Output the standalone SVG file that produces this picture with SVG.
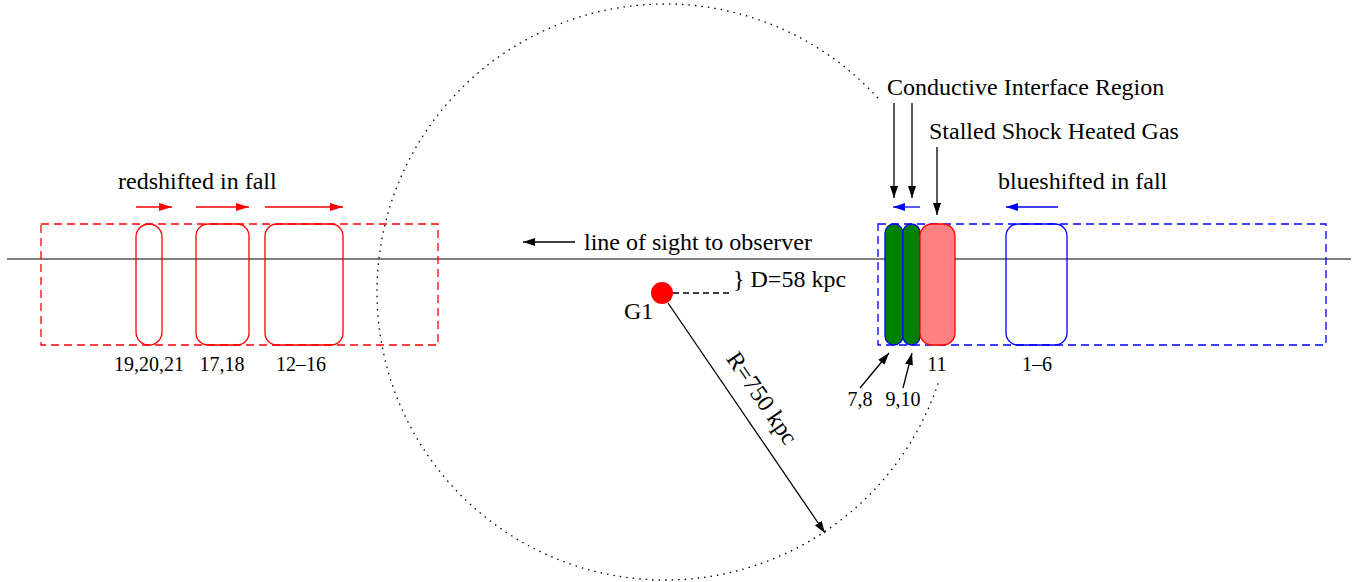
<svg xmlns="http://www.w3.org/2000/svg" width="1369" height="582" viewBox="0 0 1369 582">
<style>
text{font-family:"Liberation Serif","Times New Roman",serif;fill:#000}
.big{font-size:24px}
.lab{font-size:20px}
.mid{text-anchor:middle}
.red{stroke:#ff0000;fill:none;stroke-width:1.3}
.blue{stroke:#0000ff;fill:none;stroke-width:1.3}
.dash{stroke-dasharray:8 5}
.blk{stroke:#000;stroke-width:1.3;fill:none}
</style>
<defs>
<marker id="ak" viewBox="0 0 12 8" refX="12" refY="4" markerWidth="12" markerHeight="8" markerUnits="userSpaceOnUse" orient="auto"><path d="M0,0 L12,4 L0,8 Z" fill="#000"/></marker>
<marker id="ar" viewBox="0 0 13 8" refX="13" refY="4" markerWidth="13" markerHeight="8" markerUnits="userSpaceOnUse" orient="auto"><path d="M0,0 L13,4 L0,8 Z" fill="#ff0000"/></marker>
<marker id="ab" viewBox="0 0 12 8" refX="12" refY="4" markerWidth="12" markerHeight="8" markerUnits="userSpaceOnUse" orient="auto"><path d="M0,0 L12,4 L0,8 Z" fill="#0000ff"/></marker>
</defs>
<rect width="1369" height="582" fill="#fff"/>

<g id="sightline"><line x1="7" y1="259" x2="1351" y2="259" stroke="#555" stroke-width="1.4"/></g>

<g id="radius-circle"><path d="M938.1,383.4 A288,288 0 1 1 879,99.3" fill="none" stroke="#000" stroke-width="1.3" stroke-dasharray="1.5 5"/></g>

<g id="red-region">
<rect class="red dash" x="41" y="224" width="397" height="121"/>
<rect id="box-19-21" class="red" x="136" y="224" width="26" height="121" rx="13"/>
<rect id="box-17-18" class="red" x="196" y="224" width="53" height="121" rx="12"/>
<rect id="box-12-16" class="red" x="265" y="224" width="78" height="121" rx="12"/>
<text class="big" x="118" y="189">redshifted in fall</text>
<text class="lab mid" x="149" y="371">19,20,21</text>
<text class="lab mid" x="222" y="371">17,18</text>
<text class="lab mid" x="301" y="371">12–16</text>
</g>

<g id="blue-region">
<rect class="blue dash" x="878" y="224" width="448" height="121"/>
<rect id="box-1-6" class="blue" x="1006" y="224" width="61" height="121" rx="12"/>
<rect id="box-7-8" x="885" y="224" width="18" height="121" rx="9" fill="#008000" stroke="#0000ff" stroke-width="1.3"/>
<rect id="box-9-10" x="903" y="224" width="17" height="121" rx="8.5" fill="#008000" stroke="#0000ff" stroke-width="1.3"/>
<rect id="box-11" x="920" y="224" width="35" height="121" rx="12" fill="#ff8080" stroke="#ff0000" stroke-width="1.3"/>
<text class="big" x="998" y="189">blueshifted in fall</text>
<text class="lab mid" x="937" y="371">11</text>
<text class="lab mid" x="1037" y="371">1–6</text>
<text class="lab mid" x="860" y="406">7,8</text>
<text class="lab mid" x="903" y="406">9,10</text>
<text class="big" x="887" y="95">Conductive Interface Region</text>
<text class="big" x="929" y="139">Stalled Shock Heated Gas</text>
</g>

<g id="G1">
<circle cx="662" cy="293" r="11" fill="#ff0000"/>
<text class="big" x="624" y="319">G1</text>
<text class="big" x="733" y="287">} D=58 kpc</text>
</g>

<g id="observer-label"><text class="big" x="584" y="250">line of sight to observer</text></g>

<g id="R-label"><text class="big mid" transform="translate(755.5,402.5) rotate(55.7)">R=750 kpc</text></g>

<g id="connectors">
<line class="red" x1="136" y1="207" x2="172" y2="207" marker-end="url(#ar)"/>
<line class="red" x1="196" y1="207" x2="249" y2="207" marker-end="url(#ar)"/>
<line class="red" x1="265" y1="207" x2="343" y2="207" marker-end="url(#ar)"/>
<line class="blue" x1="920" y1="207" x2="893" y2="207" marker-end="url(#ab)"/>
<line class="blue" x1="1058" y1="207" x2="1006" y2="207" marker-end="url(#ab)"/>
<line class="blk" x1="894" y1="103" x2="894" y2="198" marker-end="url(#ak)"/>
<line class="blk" x1="912" y1="103" x2="912" y2="198" marker-end="url(#ak)"/>
<line class="blk" x1="937" y1="147" x2="937" y2="215" marker-end="url(#ak)"/>
<line class="blk" x1="860" y1="388" x2="889" y2="353" marker-end="url(#ak)"/>
<line class="blk" x1="903" y1="388" x2="912" y2="353" marker-end="url(#ak)"/>
<line class="blk" x1="575" y1="242" x2="523" y2="242" marker-end="url(#ak)"/>
<line class="blk" x1="668" y1="303" x2="825" y2="533" marker-end="url(#ak)"/>
<line class="blk" x1="673" y1="293" x2="731" y2="293" stroke-dasharray="6 4"/>
</g>
</svg>
